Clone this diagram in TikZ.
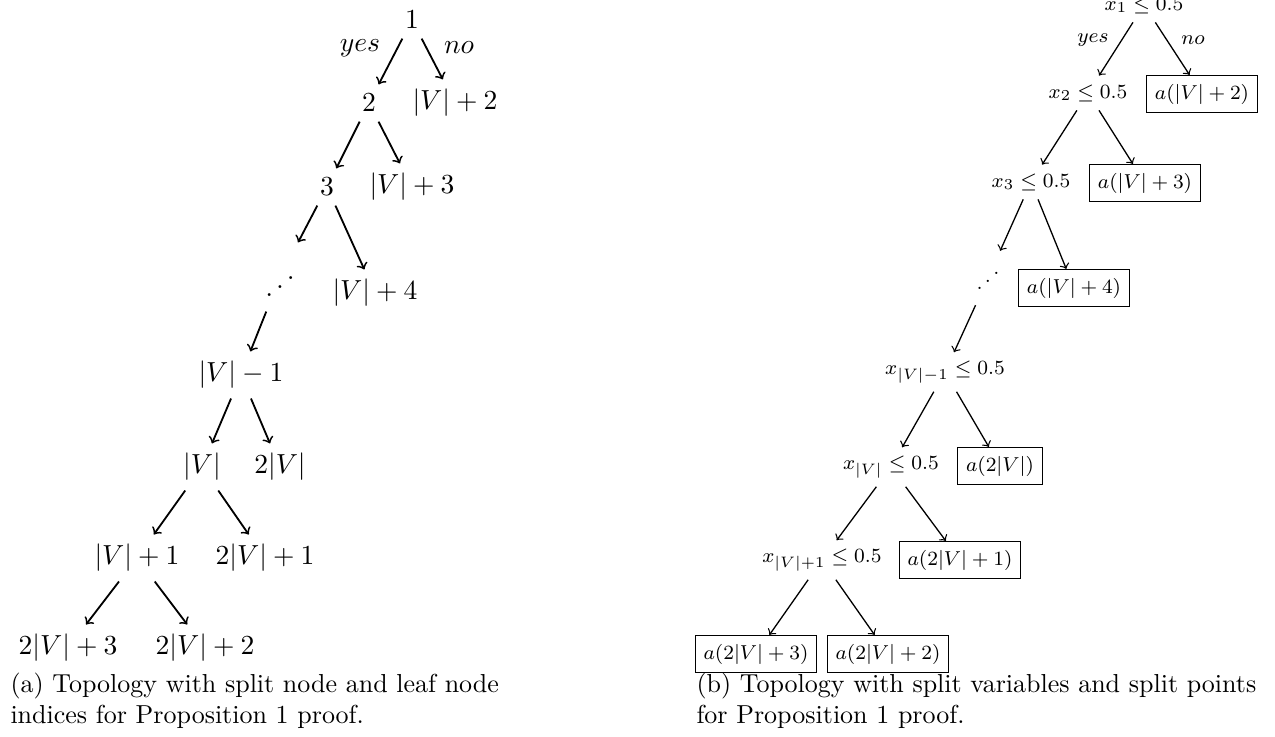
\documentclass[tikz,border=0pt]{standalone}
\usepackage{amsmath,amssymb}

\begin{document}
\begin{tikzpicture}[x=0.3846pt,y=-0.3846pt,
  treea/.style={scale=1.06,transform shape},
  treeb/.style={font=\footnotesize,scale=0.97,transform shape},
  leafbox/.style={treeb,draw,line width=0.45pt},
  edgea/.style={->,line width=0.7pt},
  edgeb/.style={->,line width=0.5pt},
  capnode/.style={anchor=west,align=left,inner sep=0pt}]
  \useasboundingbox (0,0) rectangle (1275,736);
  % (a) split node and leaf node indices
  \node[treea] (a1) at (412,20) {$1$};
  \node[treea] (a2) at (369,103) {$2$};
  \node[treea] (aL2) at (455,103) {$|V|+2$};
  \node[treea] (a3) at (327,187) {$3$};
  \node[treea] (aL3) at (412,187) {$|V|+3$};
  \node[treea,text height=17pt,text depth=1pt] (adots) at (280,277) {\reflectbox{$\ddots$}};
  \node[treea] (aL4) at (375,293) {$|V|+4$};
  \node[treea] (aVm) at (241,375) {$|V|-1$};
  \node[treea] (aV) at (202,467) {$|V|$};
  \node[treea] (aL2V) at (280,467) {$2|V|$};
  \node[treea] (aVp) at (137,558) {$|V|+1$};
  \node[treea] (aL2V1) at (265,558) {$2|V|+1$};
  \node[treea] (aL2V3) at (68,648) {$2|V|+3$};
  \node[treea] (aL2V2) at (205,648) {$2|V|+2$};
  \node[treea] (ayes) at (360,48) {$yes$};
  \node[treea] (ano) at (459,48) {$no$};
  \draw[edgea] (a1) -- (a2);
  \draw[edgea] (a1) -- (aL2);
  \draw[edgea] (a2) -- (a3);
  \draw[edgea] (a2) -- (aL3);
  \draw[edgea] (a3) -- (adots);
  \draw[edgea] (a3) -- (aL4);
  \draw[edgea] (adots) -- (aVm);
  \draw[edgea] (aVm) -- (aV);
  \draw[edgea] (aVm) -- (aL2V);
  \draw[edgea] (aV) -- (aVp);
  \draw[edgea] (aV) -- (aL2V1);
  \draw[edgea] (aVp) -- (aL2V3);
  \draw[edgea] (aVp) -- (aL2V2);
  % (b) split variables and split points
  \node[treeb] (b1) at (1144,5) {$x_1\leq 0.5$};
  \node[treeb] (b2) at (1088,93) {$x_2\leq 0.5$};
  \node[leafbox] (bL2) at (1202,94) {$a(|V|+2)$};
  \node[treeb] (b3) at (1031,182) {$x_3\leq 0.5$};
  \node[leafbox] (bL3) at (1145,183) {$a(|V|+3)$};
  \node[treeb,text height=13pt,text depth=1.5pt] (bdots) at (988,278) {\reflectbox{$\ddots$}};
  \node[leafbox] (bL4) at (1074,288) {$a(|V|+4)$};
  \node[treeb] (bVm) at (945,372) {$x_{|V|-1}\leq 0.5$};
  \node[treeb] (bV) at (891,467) {$x_{|V|}\leq 0.5$};
  \node[leafbox] (bL2V) at (1000,466) {$a(2|V|)$};
  \node[treeb] (bVp) at (822,560) {$x_{|V|+1}\leq 0.5$};
  \node[leafbox] (bL2V1) at (960,560) {$a(2|V|+1)$};
  \node[leafbox] (bL2V3) at (756,654) {$a(2|V|+3)$};
  \node[leafbox] (bL2V2) at (888,654) {$a(2|V|+2)$};
  \node[treeb] (byes) at (1093,40) {$yes$};
  \node[treeb] (bno) at (1193,40) {$no$};
  \draw[edgeb] (b1) -- (b2);
  \draw[edgeb] (b1) -- (bL2);
  \draw[edgeb] (b2) -- (b3);
  \draw[edgeb] (b2) -- (bL3);
  \draw[edgeb] (b3) -- (bdots);
  \draw[edgeb] (b3) -- (bL4);
  \draw[edgeb] (bdots) -- (bVm);
  \draw[edgeb] (bVm) -- (bV);
  \draw[edgeb] (bVm) -- (bL2V);
  \draw[edgeb] (bV) -- (bVp);
  \draw[edgeb] (bV) -- (bL2V1);
  \draw[edgeb] (bVp) -- (bL2V3);
  \draw[edgeb] (bVp) -- (bL2V2);
  % captions
  \node[capnode] (capa) at (10,701) {(a) Topology with split node and leaf node\\indices for Proposition 1 proof.};
  \node[capnode] (capb) at (696,701) {(b) Topology with split variables and split points\\for Proposition 1 proof.};
\end{tikzpicture}
\end{document}
